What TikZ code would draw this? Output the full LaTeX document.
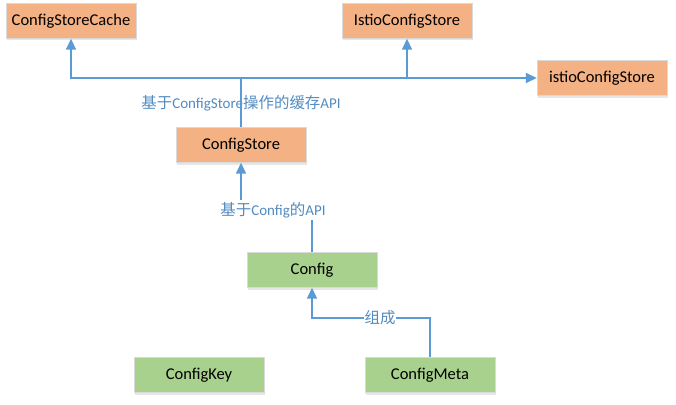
\documentclass[tikz,border=0pt]{standalone}
\usepackage{fontspec}
\setmainfont{Carlito}
\newfontfamily\cjk[Scale=1.03]{Noto Sans CJK SC}
\usetikzlibrary{arrows.meta,shadows}
\definecolor{boxorange}{HTML}{F4B183}
\definecolor{boxgreen}{HTML}{A9D18E}
\definecolor{linkblue}{HTML}{5B9BD5}
\tikzset{
    box/.style={draw=black!15,minimum width=130pt,minimum height=35pt,
        font=\fontsize{16.5}{18}\selectfont,
        drop shadow={opacity=0.2,shadow xshift=1pt,shadow yshift=-2pt}},
    store/.style={box,fill=boxorange},
    data/.style={box,fill=boxgreen},
    conn/.style={linkblue,line width=1.5pt,-{Triangle[width=10pt,length=11pt]}},
    link/.style={linkblue,line width=1.5pt},
    tag/.style={text=linkblue!90!black,font=\fontsize{15}{17}\selectfont,inner sep=2pt}
}
\begin{document}
\begin{tikzpicture}[x=1pt,y=-1pt]
    \useasboundingbox (0,0) rectangle (676,404);
    %% stores
    \node[store] (cache) at (71,21) {ConfigStoreCache};
    \node[store] (Istio) at (407,21) {IstioConfigStore};
    \node[store] (istio) at (602,78) {istioConfigStore};
    \node[store] (store) at (241,145) {ConfigStore};
    %% config types
    \node[data] (cfg) at (312,270) {Config};
    \node[data] (key) at (199,375) {ConfigKey};
    \node[data] (meta) at (430,375) {ConfigMeta};
    %% cache API
    \node[tag] (cacheapi) at (241,103) {{\cjk 基于}ConfigStore{\cjk 操作的缓存}API};
    \coordinate (hub) at (store.north |- istio.west);
    \draw[link] (store.north) -- (hub);
    \draw[conn] (hub) -| (cache.south);
    \draw[conn] (hub) -| (Istio.south);
    \draw[conn] (hub) -- (istio.west);
    %% config API
    \coordinate (bend) at (cfg.north |- 0,210);
    \draw[conn] (cfg.north) -- (bend) -| (store.south);
    \node[tag,fill=white] (cfgapi) at (273,210) {{\cjk 基于}Config{\cjk 的}API};
    %% meta
    \coordinate (join) at (meta.north |- 0,318);
    \draw[conn] (meta.north) -- (join) -| (cfg.south);
    \node[tag,fill=white,inner sep=1pt] (part) at (380,318) {\cjk 组成};
\end{tikzpicture}
\end{document}
